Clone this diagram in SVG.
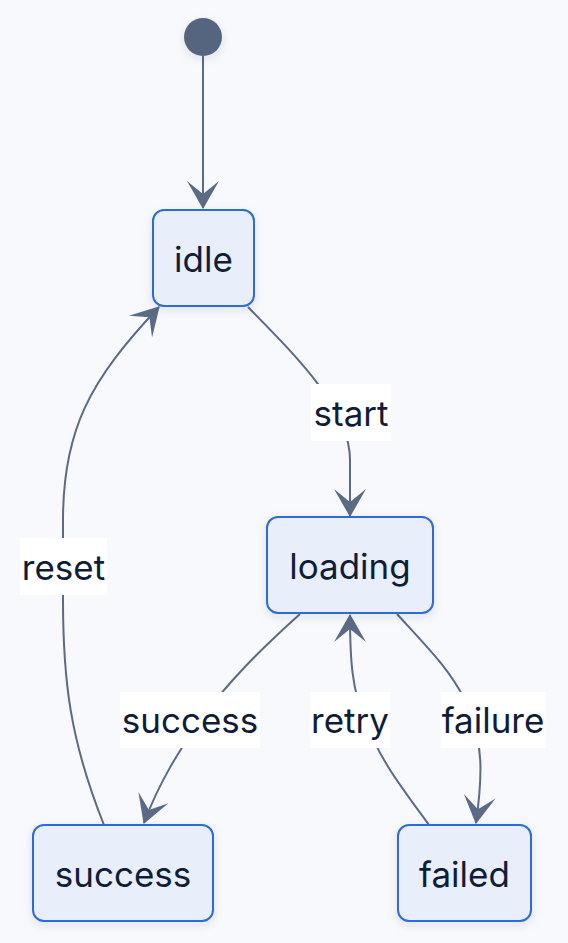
<svg xmlns="http://www.w3.org/2000/svg" width="568" height="943" viewBox="0 0 568 943">
<style>
.node rect{fill:#e8eefa;stroke:#2f6bd9;stroke-width:2;filter:url(#sh)}
.lbl{font-family:Inter,"Liberation Sans",sans-serif;font-size:35px;fill:#0f1d38;text-anchor:middle;dominant-baseline:central}
.edge{fill:none;stroke:#5b6a85;stroke-width:2;marker-end:url(#arr)}
.lb{fill:#ffffff}
</style>
<defs>
<filter id="sh" x="-20%" y="-20%" width="140%" height="150%">
<feDropShadow dx="0" dy="3" stdDeviation="5" flood-color="#1e2a44" flood-opacity="0.10"/>
</filter>
<marker id="arr" markerUnits="userSpaceOnUse" markerWidth="40" markerHeight="40" refX="0" refY="0" viewBox="-30 -20 35 40" orient="auto" overflow="visible">
<path d="M1,0 L-27,-16 L-14,0 L-27,16 Z" fill="#5b6a85"/>
</marker>
</defs>
<rect width="568" height="943" fill="#f7f9fc"/>
<g id="connectors">
<path class="edge" d="M203,56 L203,208"/>
<path class="edge" d="M248,307 C300,360 350,410 350,460 L350,516"/>
<path class="edge" d="M104,825 C70,740 63,680 63,600 L63,520 C63,430 90,380 159,307"/>
<path class="edge" d="M300,614 C260,650 230,680 200,720 C180,750 160,780 144,823"/>
<path class="edge" d="M429,825 C400,785 380,760 365,720 C352,690 350,660 350,615"/>
<path class="edge" d="M397,614 C430,650 450,670 465,700 C485,740 482,780 476,823"/>
<g id="edge-labels">
<rect class="lb" x="311" y="384" width="80" height="57"/><text class="lbl" x="351" y="413">start</text>
<rect class="lb" x="20" y="538" width="87" height="57"/><text class="lbl" x="63.5" y="567">reset</text>
<rect class="lb" x="120" y="692" width="140" height="56"/><text class="lbl" x="190" y="720">success</text>
<rect class="lb" x="310" y="692" width="80" height="56"/><text class="lbl" x="350" y="720">retry</text>
<rect class="lb" x="441" y="692" width="105" height="56"/><text class="lbl" x="493" y="720">failure</text>
</g>
</g>
<g id="start"><circle cx="203" cy="37" r="19" fill="#56657f" filter="url(#sh)"/></g>
<g id="idle" class="node"><rect x="153" y="210" width="101" height="96" rx="11"/><text class="lbl" x="203.5" y="259">idle</text></g>
<g id="loading" class="node"><rect x="267" y="517" width="166" height="96" rx="11"/><text class="lbl" x="350" y="566">loading</text></g>
<g id="success" class="node"><rect x="33" y="825" width="180" height="96" rx="11"/><text class="lbl" x="123" y="874">success</text></g>
<g id="failed" class="node"><rect x="398" y="825" width="133" height="96" rx="11"/><text class="lbl" x="464.5" y="874">failed</text></g>
</svg>
